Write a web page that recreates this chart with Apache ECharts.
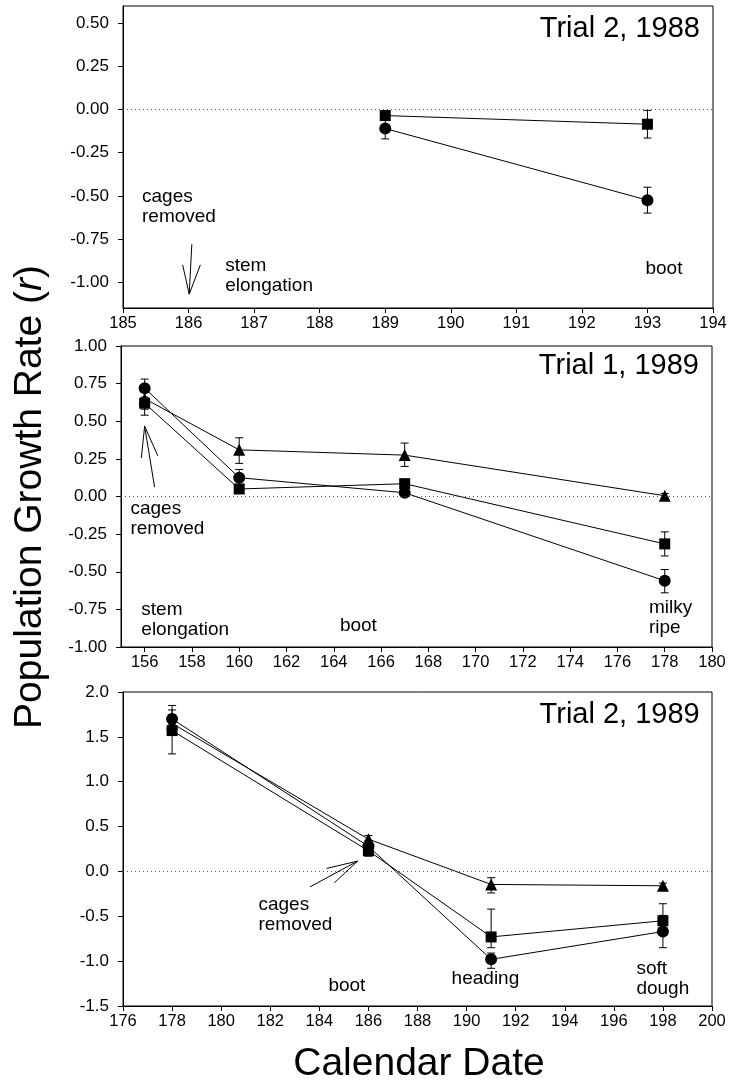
<!DOCTYPE html>
<html lang="en">
<head>
  <meta charset="UTF-8">
  <title>Population Growth Rate</title>
  <script src="https://cdn.jsdelivr.net/npm/echarts@6/dist/echarts.min.js"></script>
  <style>
    body { margin: 0; background: #fff; }
  </style>
</head>
<body>
  <div id="chart" style="width: 740px; height: 1088px;"></div>

  <script>
    // Trial 2, 1988
    const p1Dates = [189, 193]
    const p1Circle = [-0.11, -0.525]
    const p1CircleLo = [-0.17, -0.60]
    const p1CircleHi = [-0.06, -0.45]
    const p1Square = [-0.035, -0.085]
    const p1SquareLo = [-0.06, -0.165]
    const p1SquareHi = [-0.01, -0.005]

    // Trial 1, 1989
    const p2Dates = [156, 160, 167, 178]
    const p2Circle = [0.72, 0.125, 0.025, -0.56]
    const p2CircleLo = [0.66, 0.07, 0.0, -0.64]
    const p2CircleHi = [0.78, 0.18, 0.05, -0.485]
    const p2Square = [0.62, 0.05, 0.085, -0.315]
    const p2SquareLo = [0.54, 0.03, 0.06, -0.395]
    const p2SquareHi = [0.70, 0.07, 0.115, -0.235]
    const p2Triangle = [0.65, 0.31, 0.275, 0.005]
    const p2TriangleLo = [0.58, 0.22, 0.20, -0.01]
    const p2TriangleHi = [0.72, 0.39, 0.355, 0.02]

    // Trial 2, 1989
    const p3Dates = [178, 186, 191, 198]
    const p3Circle = [1.70, 0.28, -0.98, -0.67]
    const p3CircleLo = [1.58, 0.22, -1.08, -0.85]
    const p3CircleHi = [1.85, 0.34, -0.91, -0.49]
    const p3Square = [1.57, 0.23, -0.73, -0.55]
    const p3SquareLo = [1.31, 0.17, -0.85, -0.67]
    const p3SquareHi = [1.80, 0.29, -0.42, -0.36]
    const p3Triangle = [1.65, 0.36, -0.145, -0.16]
    const p3TriangleLo = [1.55, 0.32, -0.24, -0.19]
    const p3TriangleHi = [1.75, 0.40, -0.07, -0.13]

    // tick labels
    const p1YTicks = [-1.0, -0.75, -0.5, -0.25, 0, 0.25, 0.5]
    const p2XTicks = [156, 158, 160, 162, 164, 166, 168, 170, 172, 174, 176, 178, 180]

    // text notes in data coordinates [x, y, text, align, isTitle]
    const p1Notes = [
      [185.29, -0.45, 'cages\nremoved', 'left'],
      [186.56, -0.845, 'stem\nelongation', 'left'],
      [192.97, -0.865, 'boot', 'left'],
      [193.8, 0.56, 'Trial 2, 1988', 'right', true]
    ]
    const p2Notes = [
      [155.4, -0.015, 'cages\nremoved', 'left'],
      [155.86, -0.685, 'stem\nelongation', 'left'],
      [164.26, -0.795, 'boot', 'left'],
      [177.33, -0.675, 'milky\nripe', 'left'],
      [179.45, 0.975, 'Trial 1, 1989', 'right', true]
    ]
    const p3Notes = [
      [181.52, -0.26, 'cages\nremoved', 'left'],
      [184.37, -1.165, 'boot', 'left'],
      [189.39, -1.085, 'heading', 'left'],
      [196.92, -0.97, 'soft\ndough', 'left'],
      [199.5, 1.92, 'Trial 2, 1989', 'right', true]
    ]

    // arrows: segments [[x1, y1], [x2, y2]]
    const p1Arrow = [
      [[186.05, -0.78], [186.01, -1.07]],
      [[185.91, -0.90], [186.01, -1.07]],
      [[186.18, -0.90], [186.01, -1.07]]
    ]
    const p2Arrow = [
      [[156.42, 0.063], [156.0, 0.467]],
      [[155.86, 0.256], [156.0, 0.467]],
      [[156.56, 0.27], [156.0, 0.467]]
    ]
    const p3Arrow = [
      [[183.62, -0.172], [185.56, 0.115]],
      [[184.30, 0.034], [185.56, 0.115]],
      [[184.61, -0.127], [185.56, 0.115]]
    ]

    const FONT = 'Liberation Sans, Arial, sans-serif'
    let myChart = echarts.init(document.querySelector('#chart'))

    function lineSeries(gi, dates, vals, symbol, size) {
      return {
        type: 'line',
        xAxisIndex: gi,
        yAxisIndex: gi,
        data: dates.map((d, i) => [d, vals[i]]),
        symbol: symbol,
        symbolSize: size,
        showAllSymbol: true,
        itemStyle: { color: '#000' },
        lineStyle: { color: '#000', width: 1 },
        z: 3,
        silent: true
      }
    }

    function errSeries(gi, dates, lo, hi) {
      return {
        type: 'custom',
        xAxisIndex: gi,
        yAxisIndex: gi,
        data: dates.map((d, i) => [d, lo[i], hi[i]]),
        encode: { x: 0, y: [1, 2] },
        z: 2,
        silent: true,
        renderItem(params, api) {
          let a = api.coord([api.value(0), api.value(1)])
          let b = api.coord([api.value(0), api.value(2)])
          let w = 4
          let st = { stroke: '#000', lineWidth: 1 }
          return {
            type: 'group',
            children: [
              { type: 'line', shape: { x1: a[0], y1: a[1], x2: b[0], y2: b[1] }, style: st },
              { type: 'line', shape: { x1: a[0] - w, y1: a[1], x2: a[0] + w, y2: a[1] }, style: st },
              { type: 'line', shape: { x1: b[0] - w, y1: b[1], x2: b[0] + w, y2: b[1] }, style: st }
            ]
          }
        }
      }
    }

    function noteSeries(gi, notes) {
      return {
        type: 'scatter',
        xAxisIndex: gi,
        yAxisIndex: gi,
        symbolSize: 0,
        itemStyle: { color: '#000' },
        silent: true,
        z: 5,
        data: notes.map(n => ({
          value: [n[0], n[1]],
          label: {
            show: true,
            position: [0, 0],
            align: n[3],
            verticalAlign: 'top',
            formatter: n[2],
            fontFamily: FONT,
            fontSize: n[4] ? 29 : 19,
            lineHeight: n[4] ? 32 : 20,
            color: '#000',
            opacity: 1
          }
        }))
      }
    }

    function zeroLine(gi) {
      return {
        type: 'line',
        xAxisIndex: gi,
        yAxisIndex: gi,
        data: [],
        silent: true,
        markLine: {
          silent: true,
          symbol: 'none',
          animation: false,
          label: { show: false },
          lineStyle: { color: '#555', width: 1, type: [1, 3] },
          data: [{ yAxis: 0 }]
        }
      }
    }

    function arrowSeries(gi, arrow) {
      return {
        type: 'line',
        xAxisIndex: gi,
        yAxisIndex: gi,
        data: [],
        silent: true,
        markLine: {
          silent: true,
          symbol: 'none',
          animation: false,
          label: { show: false },
          lineStyle: { color: '#000', width: 1, type: 'solid' },
          data: arrow.map(s => [{ coord: s[0] }, { coord: s[1] }])
        }
      }
    }

    const axisCommon = {
      axisLine: { show: true, onZero: false, lineStyle: { color: '#000', width: 1 } },
      axisTick: { show: true, inside: false, length: 5, lineStyle: { color: '#000' } },
      splitLine: { show: false },
      axisLabel: { color: '#000', fontFamily: FONT, fontSize: 16.5 }
    }

    function xAxis(gi, min, max, interval, custom) {
      let ax = {
        type: 'value',
        gridIndex: gi,
        min: min,
        max: max,
        interval: interval,
        ...axisCommon,
        axisLabel: { ...axisCommon.axisLabel, margin: 7 }
      }
      if (custom) {
        ax.axisLabel.customValues = custom
        ax.axisTick = { ...axisCommon.axisTick, customValues: custom }
      }
      return ax
    }

    function yAxis(gi, min, max, interval, digits, custom) {
      let ax = {
        type: 'value',
        gridIndex: gi,
        min: min,
        max: max,
        interval: interval,
        ...axisCommon,
        axisLabel: {
          ...axisCommon.axisLabel,
          fontSize: 17,
          margin: 14,
          formatter: v => v.toFixed(digits)
        }
      }
      if (custom) {
        ax.axisLabel.customValues = custom
        ax.axisTick = { ...axisCommon.axisTick, customValues: custom }
      }
      return ax
    }

    let options = {
      animation: false,
      backgroundColor: '#fff',
      grid: [
        { left: 123, right: 27, top: 6, height: 302, show: true, borderColor: '#000', borderWidth: 1 },
        { left: 121, right: 28, top: 346, height: 301, show: true, borderColor: '#000', borderWidth: 1 },
        { left: 123, right: 28, top: 692, height: 314, show: true, borderColor: '#000', borderWidth: 1 }
      ],
      xAxis: [
        xAxis(0, 185, 194, 1),
        xAxis(1, 155, 180, 2, p2XTicks),
        xAxis(2, 176, 200, 2)
      ],
      yAxis: [
        yAxis(0, -1.15, 0.6, 0.25, 2, p1YTicks),
        yAxis(1, -1, 1, 0.25, 2),
        yAxis(2, -1.5, 2, 0.5, 1)
      ],
      graphic: [
        {
          type: 'text',
          x: 30,
          y: 497,
          rotation: Math.PI / 2,
          style: {
            text: '{a|Population Growth Rate (}{b|r}{a|)}',
            align: 'center',
            verticalAlign: 'middle',
            rich: {
              a: { fontFamily: FONT, fontSize: 39, fill: '#000' },
              b: { fontFamily: FONT, fontSize: 39, fontStyle: 'italic', fill: '#000' }
            }
          }
        },
        {
          type: 'text',
          x: 419,
          y: 1064,
          style: {
            text: 'Calendar Date',
            fontFamily: FONT,
            fontSize: 39,
            fill: '#000',
            align: 'center',
            verticalAlign: 'middle'
          }
        }
      ],
      series: [
        zeroLine(0), zeroLine(1), zeroLine(2),
        arrowSeries(0, p1Arrow), arrowSeries(1, p2Arrow), arrowSeries(2, p3Arrow),

        errSeries(0, p1Dates, p1CircleLo, p1CircleHi),
        errSeries(0, p1Dates, p1SquareLo, p1SquareHi),
        lineSeries(0, p1Dates, p1Circle, 'circle', 12),
        lineSeries(0, p1Dates, p1Square, 'rect', 11),

        errSeries(1, p2Dates, p2CircleLo, p2CircleHi),
        errSeries(1, p2Dates, p2SquareLo, p2SquareHi),
        errSeries(1, p2Dates, p2TriangleLo, p2TriangleHi),
        lineSeries(1, p2Dates, p2Circle, 'circle', 12),
        lineSeries(1, p2Dates, p2Square, 'rect', 11),
        lineSeries(1, p2Dates, p2Triangle, 'triangle', 12),

        errSeries(2, p3Dates, p3CircleLo, p3CircleHi),
        errSeries(2, p3Dates, p3SquareLo, p3SquareHi),
        errSeries(2, p3Dates, p3TriangleLo, p3TriangleHi),
        lineSeries(2, p3Dates, p3Circle, 'circle', 12),
        lineSeries(2, p3Dates, p3Square, 'rect', 11),
        lineSeries(2, p3Dates, p3Triangle, 'triangle', 12),

        noteSeries(0, p1Notes),
        noteSeries(1, p2Notes),
        noteSeries(2, p3Notes)
      ]
    }
    myChart.setOption(options)
  </script>
</body>
</html>
